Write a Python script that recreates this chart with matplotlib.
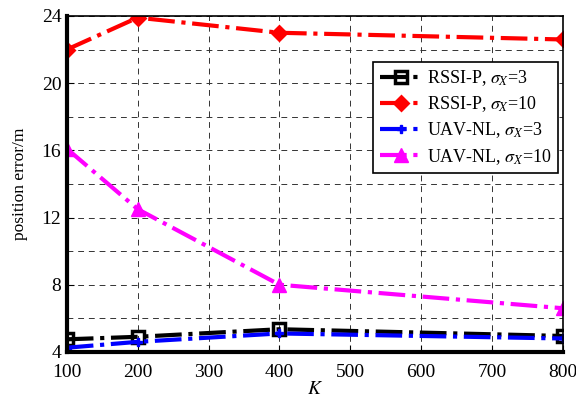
import matplotlib
matplotlib.use("Agg")
import matplotlib.pyplot as plt
from matplotlib.ticker import MultipleLocator

K = [100, 200, 400, 800]
rssi_3 = [4.75, 4.9, 5.35, 4.95]
rssi_10 = [22.0, 23.9, 23.0, 22.6]
uav_3 = [4.25, 4.6, 5.1, 4.8]
uav_10 = [16.1, 12.5, 8.0, 6.6]

plt.rcParams["font.family"] = ["Liberation Serif", "DejaVu Serif"]
plt.rcParams["mathtext.fontset"] = "stix"

fig = plt.figure(figsize=(5.76, 3.99), dpi=100)
ax = fig.add_axes([0.116, 0.118, 0.861, 0.842])

lw = 3
ax.plot(K, rssi_3, "-.", color="black", lw=lw, marker="s", ms=8, mfc="none", mew=2.5,
        label=r"RSSI-P, $\sigma_X$=3")
ax.plot(K, rssi_10, "-.", color="red", lw=lw, marker="D", ms=7, mew=2,
        label=r"RSSI-P, $\sigma_X$=10")
ax.plot(K, uav_3, "-.", color="blue", lw=lw, marker="P", ms=6,
        label=r"UAV-NL, $\sigma_X$=3")
ax.plot(K, uav_10, "-.", color="magenta", lw=lw, marker="^", ms=10,
        label=r"UAV-NL, $\sigma_X$=10")

ax.set_xlim(100, 800)
ax.set_ylim(4, 24)
ax.xaxis.set_major_locator(MultipleLocator(100))
ax.yaxis.set_major_locator(MultipleLocator(4))
ax.yaxis.set_minor_locator(MultipleLocator(2))
ax.grid(True, which="both", ls=(0, (6, 5)), color="#333333", lw=0.7)
ax.tick_params(which="both", direction="in", labelsize=14, length=5)
ax.tick_params(axis="x", pad=9)
ax.tick_params(axis="y", pad=4)
ax.tick_params(which="minor", length=0)

for side in ["left", "bottom"]:
    ax.spines[side].set_linewidth(3)
for side in ["top", "right"]:
    ax.spines[side].set_linewidth(1.2)

ax.set_xlabel(r"$K$", fontsize=14, labelpad=0)
ax.set_ylabel("position error/m", fontsize=12.5, labelpad=10)

leg = ax.legend(loc="upper right", bbox_to_anchor=(0.99, 0.863), borderaxespad=0,
                fontsize=13, frameon=True, fancybox=False, edgecolor="black",
                framealpha=1, handlelength=2.4, borderpad=0.35, labelspacing=0.35,
                handletextpad=0.2)
leg.get_frame().set_linewidth(1.2)

fig.savefig("out.png", dpi=100)
